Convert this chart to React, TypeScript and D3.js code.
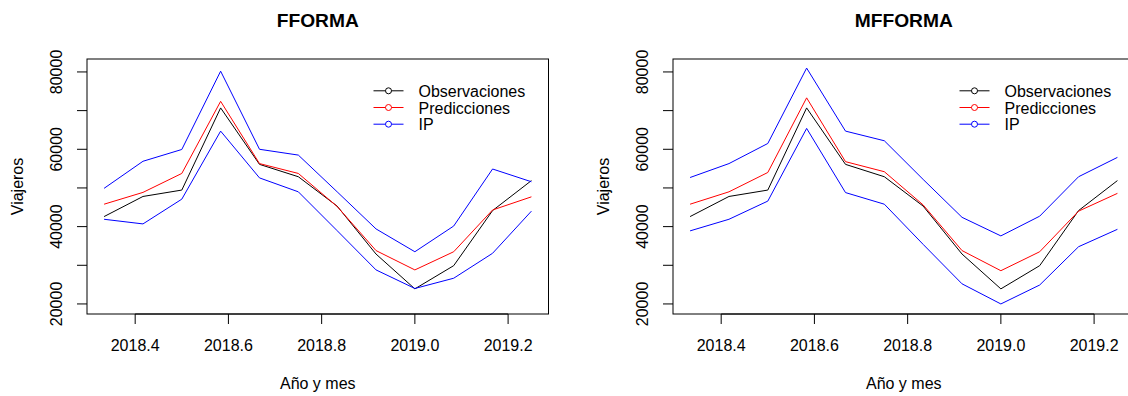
import React from 'react';
import * as d3 from 'd3';

// Monthly time index (May 2018 – April 2019)
const times = [2018.3333, 2018.4167, 2018.5, 2018.5833, 2018.6667, 2018.75, 2018.8333, 2018.9167, 2019.0, 2019.0833, 2019.1667, 2019.25];

// Observed travellers
const observaciones = [42600, 47800, 49450, 70700, 56100, 52900, 45300, 32900, 23900, 29900, 44150, 51900];

// FFORMA forecasts and prediction interval
const ffPred = [45800, 48850, 53750, 72400, 56300, 53750, 45200, 33800, 28800, 33500, 44300, 47700];
const ffLower = [41900, 40700, 47100, 64700, 52600, 49000, 38950, 28800, 24000, 26650, 33100, 44000];
const ffUpper = [49900, 56900, 59950, 80200, 60000, 58500, 49000, 39400, 33500, 40150, 54900, 51600];

// MFFORMA forecasts and prediction interval
const mfPred = [45800, 49000, 54000, 73300, 56800, 54200, 45600, 33800, 28600, 33500, 44000, 48600];
const mfLower = [38900, 41900, 46600, 65400, 48800, 45800, 35400, 25200, 20000, 24900, 34800, 39300];
const mfUpper = [52700, 56300, 61500, 81000, 64700, 62200, 52200, 42400, 37600, 42700, 52900, 57900];

const yTicks = [20000, 30000, 40000, 50000, 60000, 70000, 80000];
const yTickLabels = [20000, 40000, 60000, 80000];
const xTicks = [2018.4, 2018.6, 2018.8, 2019.0, 2019.2];
const yLimits = [17400, 83350];

const legendLabels = ['Observaciones', 'Predicciones', 'IP'];
const legendColors = ['#000000', '#FF0000', '#0000FF'];

const FONT = "'Liberation Sans', Arial, Helvetica, sans-serif";
const BOX_W = 461.5;
const BOX_TOP = 59;
const BOX_BOTTOM = 314;

type PanelProps = {
  left: number;
  title: string;
  pred: number[];
  lower: number[];
  upper: number[];
};

function Panel({ left, title, pred, lower, upper }: PanelProps) {
  const right = left + BOX_W;
  const [t0, t1] = d3.extent(times) as [number, number];
  const pad = (t1 - t0) * 0.04;
  const x = d3.scaleLinear().domain([t0 - pad, t1 + pad]).range([left, right]);
  const y = d3.scaleLinear().domain(yLimits).range([BOX_BOTTOM, BOX_TOP]);

  const line = d3
    .line<number>()
    .x((_, i) => x(times[i]))
    .y((d) => y(d));

  const cx = (left + right) / 2;
  const cy = (BOX_TOP + BOX_BOTTOM) / 2;

  const series = [
    { data: observaciones, color: legendColors[0] },
    { data: pred, color: legendColors[1] },
    { data: upper, color: legendColors[2] },
    { data: lower, color: legendColors[2] },
  ];

  return (
    <g fontFamily={FONT} fill="#000">
      <text x={cx} y={26.5} textAnchor="middle" fontWeight="bold" fontSize={19.2}>
        {title}
      </text>

      {series.map((s, k) => (
        <path key={k} d={line(s.data) || ''} fill="none" stroke={s.color} strokeWidth={1} />
      ))}

      <rect x={left} y={BOX_TOP} width={BOX_W} height={BOX_BOTTOM - BOX_TOP} fill="none" stroke="#000" strokeWidth={1} />

      {/* x axis */}
      <line x1={x(xTicks[0])} x2={x(xTicks[xTicks.length - 1])} y1={BOX_BOTTOM} y2={BOX_BOTTOM} stroke="#000" />
      {xTicks.map((t) => (
        <g key={t}>
          <line x1={x(t)} x2={x(t)} y1={BOX_BOTTOM} y2={BOX_BOTTOM + 10} stroke="#000" />
          <text x={x(t)} y={351} textAnchor="middle" fontSize={16}>
            {t.toFixed(1)}
          </text>
        </g>
      ))}
      <text x={cx} y={389} textAnchor="middle" fontSize={16}>
        Año y mes
      </text>

      {/* y axis */}
      {yTicks.map((v) => (
        <line key={v} x1={left - 10} x2={left} y1={y(v)} y2={y(v)} stroke="#000" />
      ))}
      {yTickLabels.map((v) => (
        <text key={v} transform={`translate(${left - 25},${y(v)}) rotate(-90)`} textAnchor="middle" fontSize={16}>
          {v}
        </text>
      ))}
      <text transform={`translate(${left - 64},${cy}) rotate(-90)`} textAnchor="middle" fontSize={16}>
        Viajeros
      </text>

      {/* legend */}
      {legendLabels.map((lab, i) => {
        const ry = 90.8 + i * 16.7;
        return (
          <g key={lab}>
            <line x1={right - 175} x2={right - 145} y1={ry} y2={ry} stroke={legendColors[i]} strokeWidth={1} />
            <circle cx={right - 160} cy={ry} r={3} fill="#fff" stroke={legendColors[i]} strokeWidth={1} />
            <text x={right - 130} y={ry + 6} fontSize={16}>
              {lab}
            </text>
          </g>
        );
      })}
    </g>
  );
}

export default function App() {
  return (
    <svg
      width={1128}
      height={396}
      style={{ position: 'absolute', left: 0, top: 0, background: '#fff' }}
    >
      <rect x={0} y={0} width={1128} height={396} fill="#fff" />
      <Panel left={87} title="FFORMA" pred={ffPred} lower={ffLower} upper={ffUpper} />
      <Panel left={673} title="MFFORMA" pred={mfPred} lower={mfLower} upper={mfUpper} />
    </svg>
  );
}
